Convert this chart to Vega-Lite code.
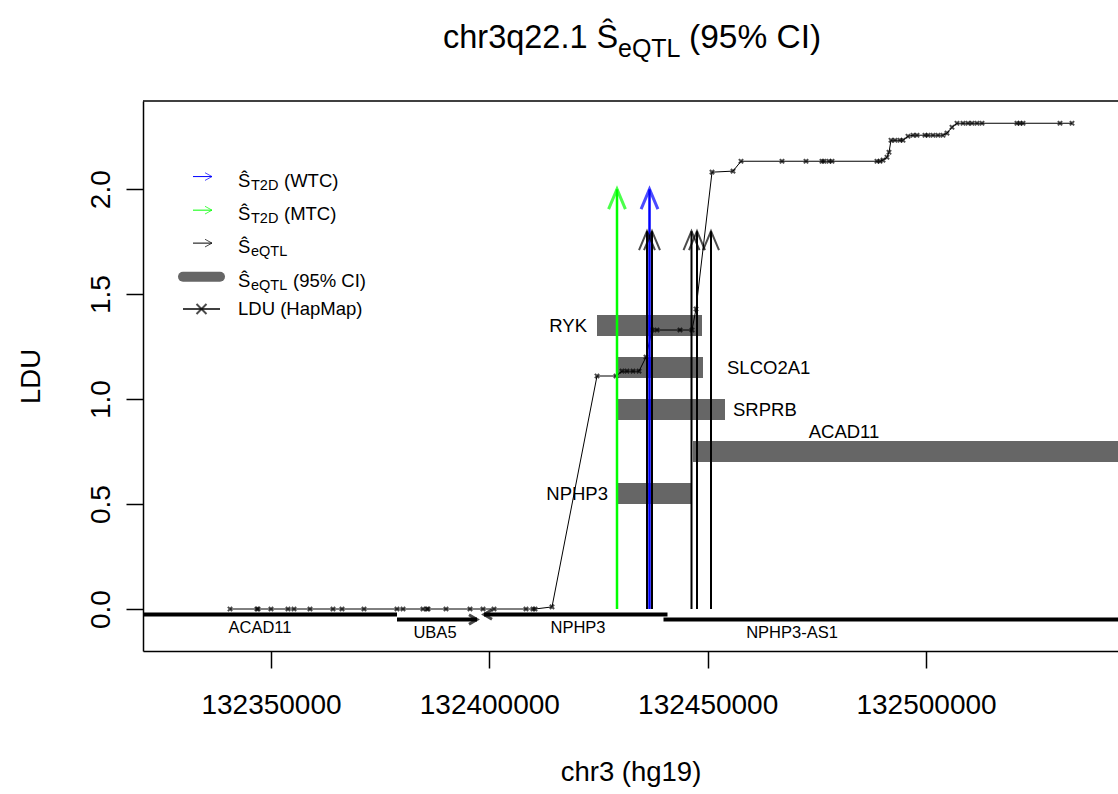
{
  "$schema": "https://vega.github.io/schema/vega-lite/v6.json",
  "width": 975,
  "height": 550,
  "autosize": {"type": "none"},
  "padding": {"left": 143, "top": 101, "right": 0, "bottom": 143},
  "background": "white",
  "config": {
    "view": {"stroke": null},
    "font": "Liberation Sans",
    "text": {"font": "Liberation Sans", "color": "black"}
  },
  "datasets": {
    "ci": [
      {"gene": "RYK", "start": 132424654, "end": 132448699, "ldu": 1.35, "label_at": 132422364, "label_ldu": 1.35},
      {"gene": "SLCO2A1", "start": 132429005, "end": 132448928, "ldu": 1.15, "label_at": 132454424, "label_ldu": 1.15},
      {"gene": "SRPRB", "start": 132429463, "end": 132453966, "ldu": 0.95, "label_at": 132455798, "label_ldu": 0.95},
      {"gene": "ACAD11", "start": 132446638, "end": 132600000, "ldu": 0.75, "label_at": 132481217, "label_ldu": 0.843},
      {"gene": "NPHP3", "start": 132429234, "end": 132446409, "ldu": 0.55, "label_at": 132427173, "label_ldu": 0.55}
    ],
    "genes": [
      {"gene": "ACAD11", "start": 132300000, "end": 132378854, "strand": "-", "track": -0.026, "label_at": 132347481, "label_ldu": -0.09},
      {"gene": "UBA5", "start": 132378854, "end": 132397174, "strand": "+", "track": -0.05, "label_at": 132387556, "label_ldu": -0.114},
      {"gene": "NPHP3", "start": 132398777, "end": 132440797, "strand": "-", "track": -0.026, "label_at": 132420303, "label_ldu": -0.09},
      {"gene": "NPHP3-AS1", "start": 132439881, "end": 132600000, "strand": "+", "track": -0.05, "label_at": 132469309, "label_ldu": -0.114}
    ],
    "ldu": [
      {"pos": 132340611, "ldu": 0}, {"pos": 132346794, "ldu": 0}, {"pos": 132347023, "ldu": 0},
      {"pos": 132350000, "ldu": 0}, {"pos": 132353893, "ldu": 0}, {"pos": 132355267, "ldu": 0},
      {"pos": 132358931, "ldu": 0}, {"pos": 132364198, "ldu": 0}, {"pos": 132366259, "ldu": 0},
      {"pos": 132371297, "ldu": 0}, {"pos": 132378854, "ldu": 0}, {"pos": 132380228, "ldu": 0},
      {"pos": 132384808, "ldu": 0}, {"pos": 132385724, "ldu": 0}, {"pos": 132385953, "ldu": 0},
      {"pos": 132390075, "ldu": 0}, {"pos": 132395571, "ldu": 0}, {"pos": 132398548, "ldu": 0},
      {"pos": 132401067, "ldu": 0}, {"pos": 132408395, "ldu": 0}, {"pos": 132409998, "ldu": 0},
      {"pos": 132410456, "ldu": 0}, {"pos": 132414349, "ldu": 0.01},
      {"pos": 132424654, "ldu": 1.11}, {"pos": 132429005, "ldu": 1.11},
      {"pos": 132430379, "ldu": 1.133}, {"pos": 132431524, "ldu": 1.133}, {"pos": 132432898, "ldu": 1.133}, {"pos": 132434272, "ldu": 1.133},
      {"pos": 132435875, "ldu": 1.2},
      {"pos": 132437249, "ldu": 1.329}, {"pos": 132438394, "ldu": 1.329}, {"pos": 132443661, "ldu": 1.329}, {"pos": 132446409, "ldu": 1.329},
      {"pos": 132447325, "ldu": 1.429},
      {"pos": 132450989, "ldu": 2.081}, {"pos": 132455798, "ldu": 2.086},
      {"pos": 132457630, "ldu": 2.133}, {"pos": 132467019, "ldu": 2.133}, {"pos": 132472515, "ldu": 2.133},
      {"pos": 132476179, "ldu": 2.133}, {"pos": 132476637, "ldu": 2.133}, {"pos": 132477782, "ldu": 2.133},
      {"pos": 132478469, "ldu": 2.133}, {"pos": 132488774, "ldu": 2.133}, {"pos": 132489461, "ldu": 2.133},
      {"pos": 132490148, "ldu": 2.138}, {"pos": 132491064, "ldu": 2.152}, {"pos": 132491522, "ldu": 2.176},
      {"pos": 132491980, "ldu": 2.233}, {"pos": 132492896, "ldu": 2.233}, {"pos": 132494041, "ldu": 2.233},
      {"pos": 132494728, "ldu": 2.233}, {"pos": 132495873, "ldu": 2.252},
      {"pos": 132497018, "ldu": 2.257}, {"pos": 132497934, "ldu": 2.257}, {"pos": 132499766, "ldu": 2.257},
      {"pos": 132500453, "ldu": 2.257}, {"pos": 132501598, "ldu": 2.257}, {"pos": 132502743, "ldu": 2.257},
      {"pos": 132503888, "ldu": 2.257}, {"pos": 132504804, "ldu": 2.267}, {"pos": 132505949, "ldu": 2.295},
      {"pos": 132507094, "ldu": 2.314}, {"pos": 132508468, "ldu": 2.314}, {"pos": 132509613, "ldu": 2.314},
      {"pos": 132510529, "ldu": 2.314}, {"pos": 132511674, "ldu": 2.314}, {"pos": 132512819, "ldu": 2.314},
      {"pos": 132520834, "ldu": 2.314}, {"pos": 132521521, "ldu": 2.314}, {"pos": 132522208, "ldu": 2.314},
      {"pos": 132530681, "ldu": 2.314}, {"pos": 132533429, "ldu": 2.314}
    ],
    "signals": [
      {"key": "T2D (MTC)", "pos": 132429234, "tip": 2.0},
      {"key": "T2D (WTC)", "pos": 132436677, "tip": 2.0},
      {"key": "eQTL", "pos": 132436104, "tip": 1.8},
      {"key": "eQTL", "pos": 132437249, "tip": 1.8},
      {"key": "eQTL", "pos": 132446295, "tip": 1.8},
      {"key": "eQTL", "pos": 132447554, "tip": 1.8},
      {"key": "eQTL", "pos": 132450760, "tip": 1.8}
    ],
    "legend": [
      {"row": 1, "key": "T2D (WTC)", "ldu": 2.06, "sub": "T2D", "tail": "(WTC)"},
      {"row": 2, "key": "T2D (MTC)", "ldu": 1.9, "sub": "T2D", "tail": "(MTC)"},
      {"row": 3, "key": "eQTL", "ldu": 1.743, "sub": "eQTL", "tail": ""},
      {"row": 4, "key": "eQTL (95% CI)", "ldu": 1.583, "sub": "eQTL", "tail": "(95% CI)"},
      {"row": 5, "key": "LDU (HapMap)", "ldu": 1.429, "sub": "", "tail": "LDU (HapMap)"}
    ],
    "heading": [
      {"part": "lead", "text": "chr3q22.1 Ŝ"},
      {"part": "sub", "text": "eQTL"},
      {"part": "tail", "text": "(95% CI)"}
    ]
  },
  "layer": [
    {
      "data": {"name": "ci"},
      "mark": {"type": "rule", "strokeWidth": 21, "strokeCap": "butt", "color": "#666666", "clip": true},
      "encoding": {
        "x": {
          "field": "start", "type": "quantitative",
          "scale": {"domain": [132320688, 132543963], "nice": false, "zero": false},
          "axis": {
            "values": [132350000, 132400000, 132450000, 132500000],
            "format": "d", "title": "chr3 (hg19)", "grid": false,
            "labelFontSize": 28, "titleFontSize": 27.5, "titleFontWeight": "normal",
            "labelFont": "Liberation Sans", "titleFont": "Liberation Sans",
            "tickSize": 17, "tickWidth": 1.5, "tickColor": "black",
            "domainWidth": 1.5, "domainColor": "black",
            "labelColor": "black", "titleColor": "black",
            "labelPadding": 23, "titlePadding": 39, "labelFlush": false, "labelOverlap": false
          }
        },
        "x2": {"field": "end"},
        "y": {
          "field": "ldu", "type": "quantitative",
          "scale": {"domain": [-0.2, 2.42], "nice": false, "zero": false},
          "axis": {
            "values": [0, 0.5, 1, 1.5, 2],
            "format": ".1f", "title": "LDU", "grid": false,
            "labelAngle": -90, "labelAlign": "center", "labelBaseline": "alphabetic",
            "labelFontSize": 28, "titleFontSize": 27.5, "titleFontWeight": "normal",
            "labelFont": "Liberation Sans", "titleFont": "Liberation Sans",
            "tickSize": 17, "tickWidth": 1.5, "tickColor": "black",
            "domainWidth": 1.5, "domainColor": "black",
            "labelColor": "black", "titleColor": "black",
            "labelPadding": 17, "titlePadding": 42
          }
        }
      }
    },
    {
      "data": {"values": [{"edge": "top"}]},
      "mark": {"type": "rule", "strokeWidth": 1.5, "color": "black"},
      "encoding": {"y": {"datum": 2.42}}
    },
    {
      "data": {"name": "ci"},
      "transform": [{"filter": "datum.gene === 'RYK' || datum.gene === 'NPHP3'"}],
      "mark": {"type": "text", "align": "right", "baseline": "middle", "fontSize": 18.5},
      "encoding": {
        "x": {"field": "label_at", "type": "quantitative"},
        "y": {"field": "label_ldu", "type": "quantitative"},
        "text": {"field": "gene"}
      }
    },
    {
      "data": {"name": "ci"},
      "transform": [{"filter": "datum.gene === 'SLCO2A1' || datum.gene === 'SRPRB'"}],
      "mark": {"type": "text", "align": "left", "baseline": "middle", "fontSize": 18.5},
      "encoding": {
        "x": {"field": "label_at", "type": "quantitative"},
        "y": {"field": "label_ldu", "type": "quantitative"},
        "text": {"field": "gene"}
      }
    },
    {
      "data": {"name": "ci"},
      "transform": [{"filter": "datum.gene === 'ACAD11'"}],
      "mark": {"type": "text", "align": "center", "baseline": "middle", "fontSize": 18.5},
      "encoding": {
        "x": {"field": "label_at", "type": "quantitative"},
        "y": {"field": "label_ldu", "type": "quantitative"},
        "text": {"field": "gene"}
      }
    },
    {
      "data": {"name": "genes"},
      "mark": {"type": "rule", "strokeWidth": 4, "strokeCap": "butt", "color": "black", "clip": true},
      "encoding": {
        "x": {"field": "start", "type": "quantitative"},
        "x2": {"field": "end"},
        "y": {"field": "track", "type": "quantitative"}
      }
    },
    {
      "data": {"name": "genes"},
      "transform": [{"filter": "datum.strand === '+'"}],
      "mark": {"type": "point", "shape": "M-1,-0.6L0,0L-1,0.6", "size": 256, "filled": false, "strokeWidth": 3, "strokeJoin": "miter", "color": "black", "clip": true},
      "encoding": {
        "x": {"field": "end", "type": "quantitative"},
        "y": {"field": "track", "type": "quantitative"}
      }
    },
    {
      "data": {"name": "genes"},
      "transform": [{"filter": "datum.strand === '-'"}],
      "mark": {"type": "point", "shape": "M1,-0.6L0,0L1,0.6", "size": 256, "filled": false, "strokeWidth": 3, "strokeJoin": "miter", "color": "black", "clip": true},
      "encoding": {
        "x": {"field": "start", "type": "quantitative"},
        "y": {"field": "track", "type": "quantitative"}
      }
    },
    {
      "data": {"name": "genes"},
      "mark": {"type": "text", "align": "center", "baseline": "middle", "fontSize": 16.5},
      "encoding": {
        "x": {"field": "label_at", "type": "quantitative"},
        "y": {"field": "label_ldu", "type": "quantitative"},
        "text": {"field": "gene"}
      }
    },
    {
      "data": {"name": "ldu"},
      "mark": {"type": "line", "strokeWidth": 1, "color": "black"},
      "encoding": {
        "x": {"field": "pos", "type": "quantitative"},
        "y": {"field": "ldu", "type": "quantitative"}
      }
    },
    {
      "data": {"name": "ldu"},
      "mark": {"type": "point", "shape": "M-1,-1L1,1M-1,1L1,-1", "size": 18, "filled": false, "strokeWidth": 2, "color": "black"},
      "encoding": {
        "x": {"field": "pos", "type": "quantitative"},
        "y": {"field": "ldu", "type": "quantitative"}
      }
    },
    {
      "data": {"name": "signals"},
      "transform": [{"filter": "datum.key !== 'eQTL'"}],
      "mark": {"type": "rule", "strokeWidth": 2.5, "strokeCap": "butt"},
      "encoding": {
        "x": {"field": "pos", "type": "quantitative"},
        "y": {"field": "tip", "type": "quantitative"},
        "y2": {"datum": 0},
        "color": {
          "field": "key", "type": "nominal", "legend": null,
          "scale": {"domain": ["T2D (WTC)", "T2D (MTC)", "eQTL", "eQTL (95% CI)", "LDU (HapMap)"], "range": ["#0000FF", "#00FF00", "#000000", "#666666", "#000000"]}
        }
      }
    },
    {
      "data": {"name": "signals"},
      "transform": [{"filter": "datum.key !== 'eQTL'"}],
      "mark": {"type": "point", "shape": "M-0.42,1L0,0L0.42,1", "size": 1600, "filled": false, "strokeWidth": 3, "strokeJoin": "miter"},
      "encoding": {
        "x": {"field": "pos", "type": "quantitative"},
        "y": {"field": "tip", "type": "quantitative"},
        "color": {"field": "key", "type": "nominal", "legend": null}
      }
    },
    {
      "data": {"name": "signals"},
      "transform": [{"filter": "datum.key === 'eQTL'"}],
      "mark": {"type": "rule", "strokeWidth": 2, "strokeCap": "butt"},
      "encoding": {
        "x": {"field": "pos", "type": "quantitative"},
        "y": {"field": "tip", "type": "quantitative"},
        "y2": {"datum": 0},
        "color": {"field": "key", "type": "nominal", "legend": null}
      }
    },
    {
      "data": {"name": "signals"},
      "transform": [{"filter": "datum.key === 'eQTL'"}],
      "mark": {"type": "point", "shape": "M-0.42,1L0,0L0.42,1", "size": 1444, "filled": false, "strokeWidth": 2, "strokeJoin": "miter"},
      "encoding": {
        "x": {"field": "pos", "type": "quantitative"},
        "y": {"field": "tip", "type": "quantitative"},
        "color": {"field": "key", "type": "nominal", "legend": null}
      }
    },
    {
      "data": {"name": "legend"},
      "transform": [{"filter": "datum.row <= 3"}],
      "mark": {"type": "rule", "strokeWidth": 1},
      "encoding": {
        "x": {"datum": 132332138},
        "x2": {"datum": 132336489},
        "y": {"field": "ldu", "type": "quantitative"},
        "color": {"field": "key", "type": "nominal", "legend": null}
      }
    },
    {
      "data": {"name": "legend"},
      "transform": [{"filter": "datum.row <= 3"}],
      "mark": {"type": "point", "shape": "M-1,-0.55L0,0L-1,0.55", "size": 196, "filled": false, "strokeWidth": 1},
      "encoding": {
        "x": {"datum": 132336489},
        "y": {"field": "ldu", "type": "quantitative"},
        "color": {"field": "key", "type": "nominal", "legend": null}
      }
    },
    {
      "data": {"name": "legend"},
      "transform": [{"filter": "datum.row === 4"}],
      "mark": {"type": "rule", "strokeWidth": 10, "strokeCap": "round"},
      "encoding": {
        "x": {"datum": 132329848},
        "x2": {"datum": 132338321},
        "y": {"field": "ldu", "type": "quantitative"},
        "color": {"field": "key", "type": "nominal", "legend": null}
      }
    },
    {
      "data": {"name": "legend"},
      "transform": [{"filter": "datum.row === 5"}],
      "mark": {"type": "rule", "strokeWidth": 1.5},
      "encoding": {
        "x": {"datum": 132329848},
        "x2": {"datum": 132338321},
        "y": {"field": "ldu", "type": "quantitative"},
        "color": {"field": "key", "type": "nominal", "legend": null}
      }
    },
    {
      "data": {"name": "legend"},
      "transform": [{"filter": "datum.row === 5"}],
      "mark": {"type": "point", "shape": "M-1,-1L1,1M-1,1L1,-1", "size": 100, "filled": false, "strokeWidth": 2},
      "encoding": {
        "x": {"datum": 132334085},
        "y": {"field": "ldu", "type": "quantitative"},
        "color": {"field": "key", "type": "nominal", "legend": null}
      }
    },
    {
      "data": {"name": "legend"},
      "transform": [{"filter": "datum.row <= 4"}],
      "mark": {"type": "text", "align": "left", "baseline": "middle", "fontSize": 18.5, "dy": 4, "text": "Ŝ"},
      "encoding": {
        "x": {"datum": 132342443},
        "y": {"field": "ldu", "type": "quantitative"}
      }
    },
    {
      "data": {"name": "legend"},
      "transform": [{"filter": "datum.row <= 4"}],
      "mark": {"type": "text", "align": "left", "baseline": "middle", "fontSize": 14.5, "dx": 13, "dy": 9},
      "encoding": {
        "x": {"datum": 132342443},
        "y": {"field": "ldu", "type": "quantitative"},
        "text": {"field": "sub"}
      }
    },
    {
      "data": {"name": "legend"},
      "transform": [{"filter": "datum.row <= 2"}],
      "mark": {"type": "text", "align": "left", "baseline": "middle", "fontSize": 18.5, "dx": 46, "dy": 4},
      "encoding": {
        "x": {"datum": 132342443},
        "y": {"field": "ldu", "type": "quantitative"},
        "text": {"field": "tail"}
      }
    },
    {
      "data": {"name": "legend"},
      "transform": [{"filter": "datum.row === 4"}],
      "mark": {"type": "text", "align": "left", "baseline": "middle", "fontSize": 18.5, "dx": 55, "dy": 4},
      "encoding": {
        "x": {"datum": 132342443},
        "y": {"field": "ldu", "type": "quantitative"},
        "text": {"field": "tail"}
      }
    },
    {
      "data": {"name": "legend"},
      "transform": [{"filter": "datum.row === 5"}],
      "mark": {"type": "text", "align": "left", "baseline": "middle", "fontSize": 18.5},
      "encoding": {
        "x": {"datum": 132342443},
        "y": {"field": "ldu", "type": "quantitative"},
        "text": {"field": "tail"}
      }
    },
    {
      "data": {"name": "heading"},
      "transform": [{"filter": "datum.part === 'lead'"}],
      "mark": {"type": "text", "align": "left", "baseline": "middle", "fontSize": 32.5},
      "encoding": {
        "x": {"datum": 132389388},
        "y": {"datum": 2.719},
        "text": {"field": "text"}
      }
    },
    {
      "data": {"name": "heading"},
      "transform": [{"filter": "datum.part === 'sub'"}],
      "mark": {"type": "text", "align": "left", "baseline": "middle", "fontSize": 25, "dx": 175, "dy": 11},
      "encoding": {
        "x": {"datum": 132389388},
        "y": {"datum": 2.719},
        "text": {"field": "text"}
      }
    },
    {
      "data": {"name": "heading"},
      "transform": [{"filter": "datum.part === 'tail'"}],
      "mark": {"type": "text", "align": "left", "baseline": "middle", "fontSize": 33.5, "dx": 246},
      "encoding": {
        "x": {"datum": 132389388},
        "y": {"datum": 2.719},
        "text": {"field": "text"}
      }
    }
  ]
}
